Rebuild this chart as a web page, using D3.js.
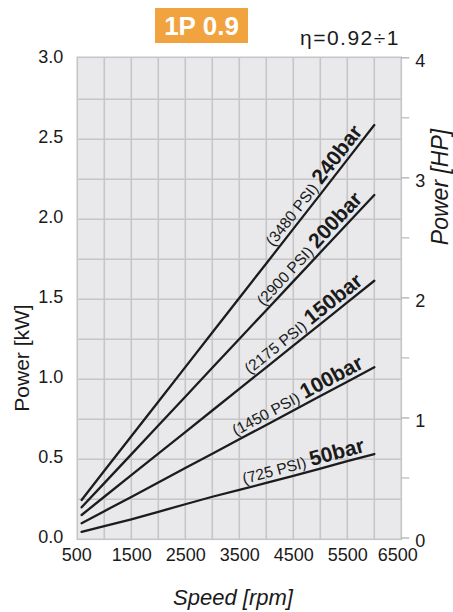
<!DOCTYPE html>
<html><head><meta charset="utf-8">
<script src="https://cdn.jsdelivr.net/npm/d3@7"></script>
<style>
html,body{margin:0;padding:0;background:#fff;}
svg{display:block;font-family:"Liberation Sans",Arial,Helvetica,sans-serif;}
</style></head>
<body>
<svg id="chart" width="453" height="612"></svg>
<script>
// ---- data ----
const rpm = [580, 1000, 1500, 2000, 2500, 3000, 3500, 4000, 4500, 5000, 5500, 6000];
const p50  = [0.046, 0.083, 0.125, 0.172, 0.219, 0.266, 0.309, 0.352, 0.396, 0.442, 0.488, 0.533];
const p100 = [0.100, 0.176, 0.265, 0.355, 0.445, 0.535, 0.625, 0.715, 0.805, 0.895, 0.985, 1.075];
const p150 = [0.152, 0.266, 0.401, 0.535, 0.670, 0.805, 0.940, 1.075, 1.210, 1.345, 1.481, 1.616];
const p200 = [0.200, 0.351, 0.531, 0.711, 0.891, 1.072, 1.252, 1.432, 1.612, 1.792, 1.972, 2.152];
const p240 = [0.246, 0.428, 0.644, 0.860, 1.076, 1.292, 1.508, 1.724, 1.940, 2.156, 2.373, 2.589];
const barLabels = ["50bar", "100bar", "150bar", "200bar", "240bar"];
const psiLabels = ["(725 PSI)", "(1450 PSI)", "(2175 PSI)", "(2900 PSI)", "(3480 PSI)"];
const xTicks = [500, 1500, 2500, 3500, 4500, 5500, 6500];
const kwTicks = [0, 0.5, 1.0, 1.5, 2.0, 2.5, 3.0];
const hpTicks = [0, 1, 2, 3, 4];
const hpMinor = [0.5, 1.5, 2.5, 3.5];
const title = "1P 0.9";
const etaText = "η=0.92÷1";

const series = [p50, p100, p150, p200, p240];

// ---- layout ----
const L = 77.3, R = 401.3, T = 57.3, B = 539.3;
const x = d3.scaleLinear([500, 6500], [L, R]);
const y = d3.scaleLinear([0, 3], [B, 59.3]);
const yHP = d3.scaleLinear([0, 4], [537.5, 57.3]);

const svg = d3.select("#chart");
const gridColor = "#c6c6c8";

// plot background
svg.append("rect").attr("x", L).attr("y", T).attr("width", R - L).attr("height", B - T)
  .attr("fill", "#e9e9eb");

// grid
const vGrid = d3.range(1000, 6500, 500);
svg.append("g").selectAll("line").data(vGrid).join("line")
  .attr("x1", d => x(d)).attr("x2", d => x(d)).attr("y1", T).attr("y2", B)
  .attr("stroke", gridColor).attr("stroke-width", 1.6);
const hGrid = d3.range(0.25, 2.9, 0.25);
svg.append("g").selectAll("line").data(hGrid).join("line")
  .attr("x1", L).attr("x2", R).attr("y1", d => y(d)).attr("y2", d => y(d))
  .attr("stroke", gridColor).attr("stroke-width", 1.4);
svg.append("rect").attr("x", L).attr("y", T).attr("width", R - L).attr("height", B - T)
  .attr("fill", "none").attr("stroke", gridColor).attr("stroke-width", 1.6);

// left axis (kW)
const gl = svg.append("g").attr("transform", `translate(${L},-2.5)`)
  .call(d3.axisLeft(y).tickValues(kwTicks).tickFormat(d3.format(".1f")).tickSize(0).tickPadding(14));
gl.select(".domain").remove();
gl.selectAll("text").attr("font-size", 18).attr("fill", "#1a1a1a").style("font-family", "Liberation Sans, Arial, sans-serif");

// bottom axis
const gb = svg.append("g").attr("transform", `translate(0,${B})`)
  .call(d3.axisBottom(x).tickValues(xTicks).tickFormat(d3.format("d")).tickSize(0).tickPadding(9));
gb.select(".domain").remove();
gb.selectAll("text").attr("font-size", 18).attr("fill", "#1a1a1a").style("font-family", "Liberation Sans, Arial, sans-serif")
  .attr("dx", d => d === 6500 ? -4 : (d === 500 ? -1 : 0));

// right axis (HP)
const gr = svg.append("g").attr("transform", `translate(${R},0)`)
  .call(d3.axisRight(yHP).tickValues(hpTicks).tickFormat(d3.format("d")).tickSize(8).tickPadding(6));
gr.select(".domain").remove();
gr.selectAll("line").attr("stroke", "#a8a8a8").attr("stroke-width", 1.2);
gr.selectAll("text").attr("font-size", 18).attr("fill", "#1a1a1a").attr("dy", "0.5em").style("font-family", "Liberation Sans, Arial, sans-serif");
const grm = svg.append("g").attr("transform", `translate(${R},0)`)
  .call(d3.axisRight(yHP).tickValues(hpMinor).tickFormat("").tickSize(8));
grm.select(".domain").remove();
grm.selectAll("line").attr("stroke", "#b8b8b8").attr("stroke-width", 1.2);

// lines
const line = d3.line().x((d, i) => x(rpm[i])).y(d => y(d));
svg.append("g").selectAll("path").data(series).join("path")
  .attr("d", d => line(d))
  .attr("fill", "none").attr("stroke", "#1c1c1c").attr("stroke-width", 2.3).attr("stroke-linecap", "round");

// curve labels
const labelRpm = 5860;
series.forEach((s, k) => {
  const x0 = x(rpm[0]), y0 = y(s[0]);
  const x1 = x(rpm[rpm.length - 1]), y1 = y(s[s.length - 1]);
  const ang = Math.atan2(y1 - y0, x1 - x0); // negative (upward)
  const t = (labelRpm - rpm[0]) / (rpm[rpm.length - 1] - rpm[0]);
  const px = x0 + (x1 - x0) * t, py = y0 + (y1 - y0) * t;
  const off = 4.5;
  const nx = Math.sin(ang) * off, ny = -Math.cos(ang) * off;
  const tx = svg.append("text")
    .attr("transform", `translate(${px + nx},${py + ny}) rotate(${ang * 180 / Math.PI})`)
    .attr("text-anchor", "end").attr("fill", "#1a1a1a");
  tx.append("tspan").attr("font-size", 15.5).text(psiLabels[k] + " ");
  tx.append("tspan").attr("font-size", 21).attr("font-weight", "bold").text(barLabels[k]);
});

// title box
svg.append("rect").attr("x", 155).attr("y", 8).attr("width", 93).attr("height", 35).attr("fill", "#f0a33f");
svg.append("text").attr("x", 201.5).attr("y", 35).attr("text-anchor", "middle")
  .attr("font-size", 26).attr("font-weight", "bold").attr("fill", "#fff").text(title);
svg.append("text").attr("x", 400).attr("y", 45).attr("text-anchor", "end")
  .attr("font-size", 21).attr("letter-spacing", 1.5).attr("fill", "#1a1a1a").text(etaText);

// axis titles
svg.append("text").attr("transform", "translate(29,358) rotate(-90)").attr("text-anchor", "middle")
  .attr("font-size", 21).attr("fill", "#1a1a1a").text("Power [kW]");
svg.append("text").attr("transform", "translate(448,187) rotate(-90)").attr("text-anchor", "middle")
  .attr("font-size", 23).attr("font-style", "italic").attr("fill", "#1a1a1a").text("Power [HP]");
svg.append("text").attr("x", 233).attr("y", 605).attr("text-anchor", "middle")
  .attr("font-size", 22).attr("font-style", "italic").attr("fill", "#1a1a1a").text("Speed [rpm]");
</script>
</body></html>
